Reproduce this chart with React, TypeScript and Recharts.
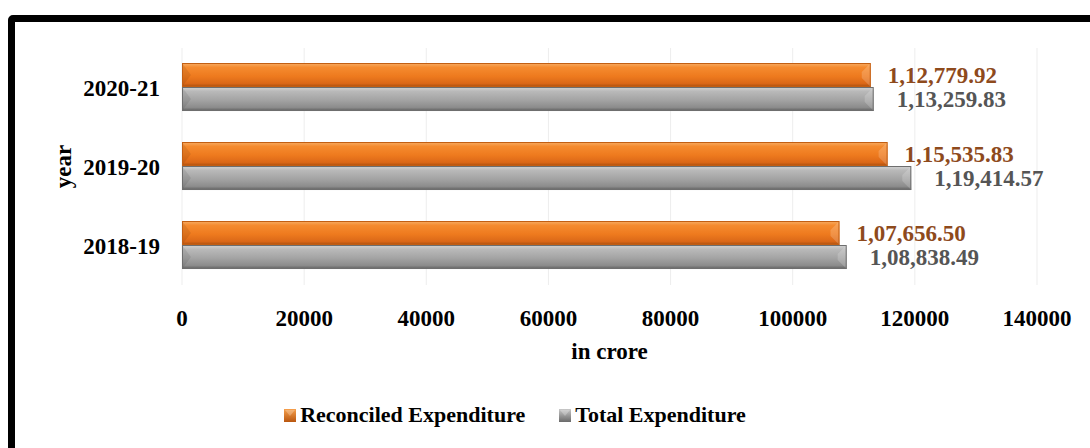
import React from 'react';
import {
  BarChart,
  Bar,
  XAxis,
  YAxis,
  CartesianGrid,
  Legend,
} from 'recharts';

const years = ['2020-21', '2019-20', '2018-19'];
const reconciled = [112779.92, 115535.83, 107656.5];
const total = [113259.83, 119414.57, 108838.49];
const xTicks = [0, 20000, 40000, 60000, 80000, 100000, 120000, 140000];

const data = years.map((year, i) => ({
  year,
  reconciled: reconciled[i],
  total: total[i],
}));

const FONT = "'Liberation Serif', 'Times New Roman', serif";

// indian style grouping: 1,12,779.92
function fmtIN(v: number) {
  const [int, dec] = v.toFixed(2).split('.');
  const last3 = int.slice(-3);
  const rest = int.slice(0, -3).replace(/\B(?=(\d{2})+(?!\d))/g, ',');
  return (rest ? rest + ',' : '') + last3 + '.' + dec;
}

function BevelBar(props: any) {
  const { x, y, width, height, gradId, edge } = props;
  if (!width || width <= 0) return null;
  const b = Math.min(9, height / 2.6);
  return (
    <g>
      <rect x={x} y={y} width={width} height={height} fill={`url(#${gradId})`} />
      <polygon
        points={`${x},${y} ${x + b},${y + height / 2} ${x},${y + height}`}
        fill="#000"
        opacity={0.08}
      />
      <polygon
        points={`${x + width},${y} ${x + width - b},${y + b} ${x + width - b},${y + height - b} ${x + width},${y + height}`}
        fill="#fff"
        opacity={0.18}
      />
      <rect
        x={x + 0.5}
        y={y + 0.5}
        width={width - 1}
        height={height - 1}
        fill="none"
        stroke={edge}
        strokeWidth={1}
      />
    </g>
  );
}

function valueLabel(color: string, gap: number) {
  return (p: any) => (
    <text
      x={p.x + p.width + gap}
      y={p.y + p.height / 2}
      dy="0.35em"
      textAnchor="start"
      fill={color}
      fontFamily={FONT}
      fontWeight="bold"
      fontSize={23}
    >
      {fmtIN(p.value)}
    </text>
  );
}

function YearLabel() {
  const cy = 48 + (285 - 48) / 2;
  return (
    <text
      x={0}
      y={0}
      transform={`translate(${71}, ${cy}) rotate(-90)`}
      textAnchor="middle"
      fontFamily={FONT}
      fontWeight="bold"
      fontSize={23}
      fill="#000"
    >
      year
    </text>
  );
}

function CroreLabel({ viewBox }: any) {
  const cx = viewBox ? viewBox.x + viewBox.width / 2 : 609;
  const y = viewBox ? viewBox.y + 74 : 359;
  return (
    <text
      x={cx}
      y={y}
      textAnchor="middle"
      fontFamily={FONT}
      fontWeight="bold"
      fontSize={23}
      fill="#000"
    >
      in crore
    </text>
  );
}

function LegendIcon({ gradId }: { gradId: string }) {
  return (
    <svg width={12} height={13} style={{ marginRight: 4 }}>
      <rect x={0} y={0} width={12} height={13} fill={`url(#${gradId})`} />
      <polygon points="1,1 11,1 6,7" fill="#fff" opacity={0.25} />
    </svg>
  );
}

function CustomLegend() {
  const item = { display: 'flex', alignItems: 'center' } as const;
  return (
    <div
      style={{
        display: 'flex',
        justifyContent: 'center',
        alignItems: 'center',
        height: 60,
        paddingRight: 60,
        paddingBottom: 6,
        boxSizing: 'border-box',
        fontFamily: FONT,
        fontWeight: 'bold',
        fontSize: 22,
        color: '#000',
      }}
    >
      <span style={item}>
        <LegendIcon gradId="legOrange" />
        Reconciled Expenditure
      </span>
      <span style={{ ...item, marginLeft: 34 }}>
        <LegendIcon gradId="legGray" />
        Total Expenditure
      </span>
    </div>
  );
}

export default function App() {
  return (
    <div
      style={{
        position: 'absolute',
        left: 0,
        top: 0,
        width: 1090,
        height: 448,
        overflow: 'hidden',
        background: '#fff',
      }}
    >
      <div
        style={{
          position: 'absolute',
          left: 8,
          top: 15,
          width: 1120,
          height: 480,
          border: '7px solid #000',
          borderRadius: 5,
        }}
      />
      <svg width={0} height={0} style={{ position: 'absolute' }}>
        <defs>
          <linearGradient id="legOrange" x1="0" y1="0" x2="0" y2="1">
            <stop offset="0%" stopColor="#F6A04C" />
            <stop offset="100%" stopColor="#B9560F" />
          </linearGradient>
          <linearGradient id="legGray" x1="0" y1="0" x2="0" y2="1">
            <stop offset="0%" stopColor="#C8C8C8" />
            <stop offset="100%" stopColor="#6A6A6A" />
          </linearGradient>
        </defs>
      </svg>
      <BarChart
        width={1090}
        height={448}
        data={data}
        layout="vertical"
        margin={{ top: 48, right: 53, left: 0, bottom: 0 }}
        barCategoryGap="19%"
        barGap={0}
        style={{ position: 'absolute', left: 0, top: 0 }}
      >
        <defs>
          <linearGradient id="gradOrange" x1="0" y1="0" x2="0" y2="1">
            <stop offset="0%" stopColor="#F7AE66" />
            <stop offset="18%" stopColor="#F58B2F" />
            <stop offset="55%" stopColor="#EE7A1E" />
            <stop offset="85%" stopColor="#DB6818" />
            <stop offset="100%" stopColor="#A94E0E" />
          </linearGradient>
          <linearGradient id="gradGray" x1="0" y1="0" x2="0" y2="1">
            <stop offset="0%" stopColor="#D6D6D6" />
            <stop offset="18%" stopColor="#B9B9B9" />
            <stop offset="55%" stopColor="#A3A3A3" />
            <stop offset="85%" stopColor="#8C8C8C" />
            <stop offset="100%" stopColor="#5E5E5E" />
          </linearGradient>
        </defs>
        <CartesianGrid horizontal={false} stroke="#EDEDED" />
        <XAxis
          type="number"
          domain={[0, 140000]}
          ticks={xTicks}
          axisLine={false}
          tickLine={false}
          tickSize={0}
          tickMargin={25}
          height={103}
          tick={{ fontFamily: FONT, fontWeight: 'bold', fontSize: 23, fill: '#000' }}
          label={<CroreLabel />}
        />
        <YAxis
          type="category"
          dataKey="year"
          width={182}
          axisLine={false}
          tickLine={false}
          tickSize={0}
          tickMargin={22}
          tick={{ fontFamily: FONT, fontWeight: 'bold', fontSize: 23, fill: '#000' }}
          label={<YearLabel />}
        />
        <Legend verticalAlign="bottom" height={60} wrapperStyle={{ left: 0, width: 1090 }} content={<CustomLegend />} />
        <Bar
          dataKey="reconciled"
          name="Reconciled Expenditure"
          fill="#EE7A1E"
          isAnimationActive={false}
          shape={(p: any) => <BevelBar {...p} gradId="gradOrange" edge="#C25F14" />}
          label={valueLabel('#8E4A1C', 17)}
        />
        <Bar
          dataKey="total"
          name="Total Expenditure"
          fill="#A0A0A0"
          isAnimationActive={false}
          shape={(p: any) => <BevelBar {...p} gradId="gradGray" edge="#6E6E6E" />}
          label={valueLabel('#555555', 23)}
        />
      </BarChart>
    </div>
  );
}
